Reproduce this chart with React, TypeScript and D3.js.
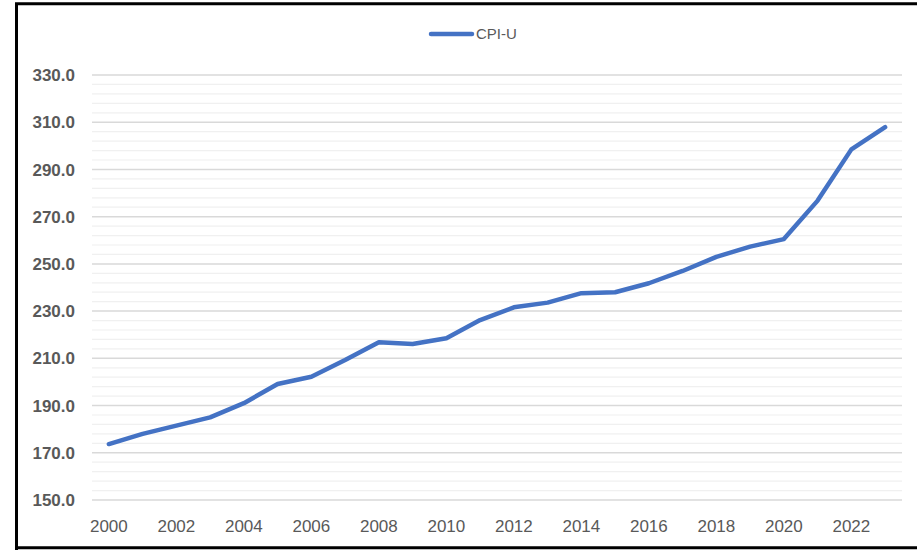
import React from "react";
import * as d3 from "d3";

const years: number[] = [2000, 2001, 2002, 2003, 2004, 2005, 2006, 2007, 2008, 2009, 2010, 2011, 2012, 2013, 2014, 2015, 2016, 2017, 2018, 2019, 2020, 2021, 2022, 2023];
const cpiU: number[] = [173.7, 178.0, 181.5, 185.0, 191.0, 199.1, 202.2, 209.3, 216.8, 216.1, 218.5, 226.2, 231.6, 233.6, 237.6, 238.0, 241.8, 247.0, 253.0, 257.3, 260.5, 276.8, 298.5, 307.9];
const yTicks: number[] = [150, 170, 190, 210, 230, 250, 270, 290, 310, 330];
const xTickLabels: number[] = [2000, 2002, 2004, 2006, 2008, 2010, 2012, 2014, 2016, 2018, 2020, 2022];
const seriesName = "CPI-U";

export default function App() {
  const W = 917, H = 550;
  const left = 92, right = 902, top = 75, bottom = 500;
  const x = d3.scalePoint<number>().domain(years).range([left, right]).padding(0.5);
  const y = d3.scaleLinear().domain([150, 330]).range([bottom, top]);
  const minor = d3.range(150, 330.001, 4);
  const line = d3.line<number>().x((_, i) => x(years[i])!).y((d) => y(d));
  const font = "'Liberation Sans', Arial, sans-serif";
  return (
    <svg width={W} height={H} style={{ position: "absolute", left: 0, top: 0, background: "#fff" }}>
      <rect x={0} y={0} width={W} height={H} fill="#fff" />
      {minor.filter((v) => (v - 150) % 20 !== 0).map((v) => (
        <line key={"m" + v} x1={left} x2={right} y1={y(v)} y2={y(v)} stroke="#f0f0f0" strokeWidth={1.2} />
      ))}
      {yTicks.map((v) => (
        <line key={"g" + v} x1={left} x2={right} y1={y(v)} y2={y(v)} stroke="#d9d9d9" strokeWidth={1.5} />
      ))}
      {yTicks.map((v) => (
        <text key={"t" + v} x={75} y={y(v)} dy="0.36em" textAnchor="end" fontFamily={font} fontSize={17} fontWeight="bold" fill="#595959">
          {v.toFixed(1)}
        </text>
      ))}
      {xTickLabels.map((yr) => (
        <text key={"x" + yr} x={x(yr)} y={532} textAnchor="middle" fontFamily={font} fontSize={17} fill="#595959">
          {yr}
        </text>
      ))}
      <path d={line(cpiU) || ""} fill="none" stroke="#4472C4" strokeWidth={4.5} strokeLinejoin="round" strokeLinecap="round" />
      <line x1={431} x2={472} y1={34} y2={34} stroke="#4472C4" strokeWidth={4.5} strokeLinecap="round" />
      <text x={476} y={34} dy="0.36em" fontFamily={font} fontSize={15} fill="#595959">{seriesName}</text>
      <path d={`M16.5,${H + 5} L16.5,3.7 L${W + 5},3.7`} fill="none" stroke="#000" strokeWidth={3} />
      <line x1={15} x2={W + 5} y1={547.7} y2={547.7} stroke="#000" strokeWidth={3} />
    </svg>
  );
}
